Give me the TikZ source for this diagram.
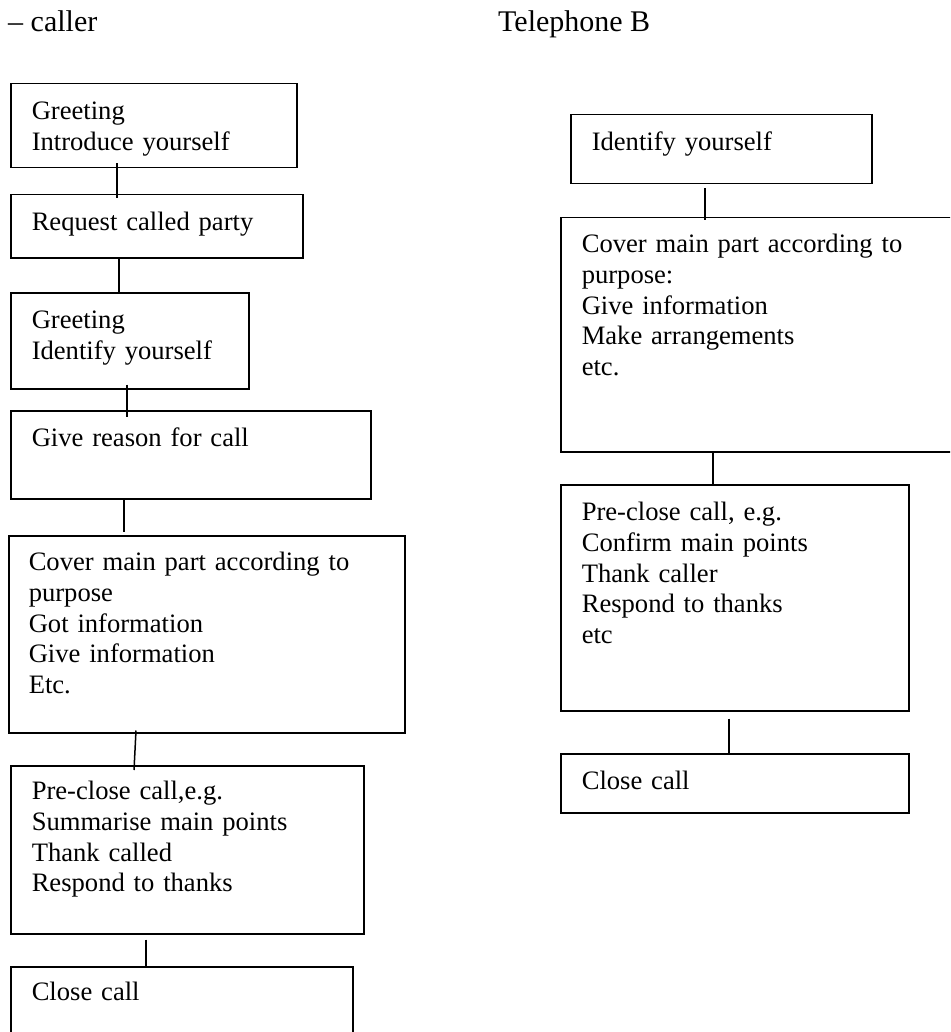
\documentclass[tikz,border=0pt]{standalone}
\usepackage{fontspec}
\setmainfont{Liberation Serif}
\begin{document}
\begin{tikzpicture}[x=1pt,y=-1pt,
  box/.style={draw, line width=1.5pt, anchor=north west, inner ysep=0pt, inner xsep=21pt,
    align=left, font=\fontsize{26.6pt}{30.7pt}\selectfont},
  title/.style={anchor=base west, inner sep=0pt, font=\fontsize{30pt}{34pt}\selectfont},
  link/.style={line width=1.5pt}]
\useasboundingbox (0,0) rectangle (950,1032);
\clip (0,0) rectangle (950,1032);
\fill[white] (0,0) rectangle (950,1032);

% titles
\node[title] (tA) at (8,32) {– caller};
\node[title] (tB) at (498,32) {Telephone B};

% left column
\node[box, text width=244pt, text height=36pt, text depth=48pt] (b1) at (10,83) {Greeting\\Introduce yourself};
\node[box, text width=250pt, text height=36pt, text depth=27pt] (b2) at (10,194) {Request called party};
\node[box, text width=196pt, text height=36pt, text depth=60pt] (b3) at (10,292) {Greeting\\Identify yourself};
\node[box, text width=318pt, text height=36pt, text depth=52pt] (b4) at (10,410) {Give reason for call};
\node[box, inner xsep=20pt, text width=356pt, text height=35pt, text depth=162pt] (b5) at (8,535) {Cover main part according to\\purpose\\Got information\\Give information\\Etc.};
\node[box, text width=311pt, text height=34pt, text depth=134pt] (b6) at (10,765) {Pre-close call,e.g.\\Summarise main points\\Thank called\\Respond to thanks};
\node[box, text width=300pt, text height=34pt, text depth=70pt] (b7) at (10,966) {Close call};

% right column
\node[box, text width=259pt, text height=36pt, text depth=33pt] (r1) at (570,114) {Identify yourself};
\node[box, text width=390pt, text height=35pt, text depth=199pt] (r2) at (560,217) {Cover main part according to\\purpose:\\Give information\\Make arrangements\\etc.};
\node[box, text width=306pt, text height=36pt, text depth=190pt] (r3) at (560,484) {Pre-close call, e.g.\\Confirm main points\\Thank caller\\Respond to thanks\\etc};
\node[box, text width=306pt, text height=36pt, text depth=23pt] (r4) at (560,753) {Close call};

% connectors left
\draw[link] ([xshift=107pt,yshift=5pt]b1.south west) -- ([xshift=107pt,yshift=-4pt]b2.north west);
\draw[link] ([xshift=109pt]b2.south west) -- ([xshift=109pt]b3.north west);
\draw[link] ([xshift=117pt,yshift=5pt]b3.south west) -- ([xshift=117pt,yshift=-7pt]b4.north west);
\draw[link] ([xshift=114pt]b4.south west) -- ([xshift=116pt,yshift=3pt]b5.north west);
\draw[link] ([xshift=128pt,yshift=3pt]b5.south west) -- ([xshift=124pt,yshift=-5pt]b6.north west);
\draw[link] ([xshift=136pt,yshift=-5pt]b6.south west) -- ([xshift=136pt]b7.north west);

% connectors right
\draw[link] ([xshift=135pt,yshift=-4pt]r1.south west) -- ([xshift=145pt,yshift=-3pt]r2.north west);
\draw[link] ([xshift=153pt]r2.south west) -- ([xshift=153pt]r3.north west);
\draw[link] ([xshift=169pt,yshift=-7pt]r3.south west) -- ([xshift=169pt]r4.north west);
\end{tikzpicture}
\end{document}
